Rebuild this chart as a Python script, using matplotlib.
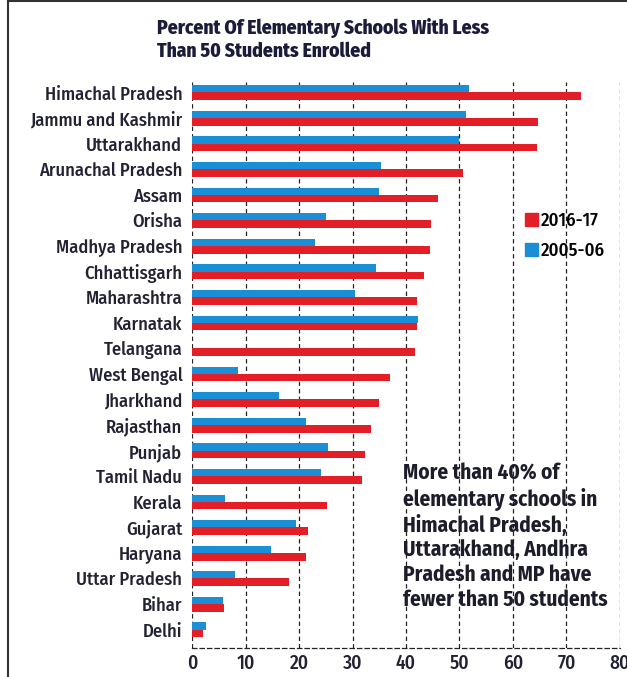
import matplotlib
matplotlib.use("Agg")
import matplotlib.pyplot as plt
from matplotlib.lines import Line2D
from matplotlib.patches import Rectangle

states = ["Himachal Pradesh", "Jammu and Kashmir", "Uttarakhand", "Arunachal Pradesh",
          "Assam", "Orisha", "Madhya Pradesh", "Chhattisgarh", "Maharashtra", "Karnatak",
          "Telangana", "West Bengal", "Jharkhand", "Rajasthan", "Punjab", "Tamil Nadu",
          "Kerala", "Gujarat", "Haryana", "Uttar Pradesh", "Bihar", "Delhi"]
v2016 = [72.7, 64.6, 64.4, 50.7, 46.0, 44.7, 44.4, 43.4, 42.1, 42.1, 41.6, 37.1,
         34.9, 33.4, 32.4, 31.8, 25.3, 21.7, 21.4, 18.1, 6.0, 2.0]
v2005 = [51.7, 51.3, 50.0, 35.3, 34.9, 25.1, 22.9, 34.4, 30.5, 42.3, 0.0, 8.6,
         16.3, 21.3, 25.4, 24.1, 6.2, 19.5, 14.8, 8.1, 5.8, 2.7]
xticks = [0, 10, 20, 30, 40, 50, 60, 70, 80]
legend_labels = ["2016-17", "2005-06"]

RED = "#e31e26"
BLUE = "#1b8fd6"
TXT = "#222233"
FONT = ["Fira Sans Condensed", "Roboto Condensed", "PT Sans Narrow", "Archivo Narrow", "DejaVu Sans"]
plt.rcParams["font.family"] = FONT

fig = plt.figure(figsize=(6.27, 6.77), dpi=100)
fig.patch.set_facecolor("white")
ax = fig.add_axes([192 / 627, 1 - 648 / 677, (620 - 192) / 627, (648 - 82) / 677])

ys = list(range(len(states)))
ax.barh([y - 0.14 for y in ys], v2005, height=0.28, color=BLUE, zorder=3)
ax.barh([y + 0.15 for y in ys], v2016, height=0.30, color=RED, zorder=3)

ax.set_xlim(0, 80)
ax.set_ylim(len(states) - 1 + 0.72, -0.41)
ax.set_yticks(ys)
ax.set_yticklabels(states, fontsize=13.3, color=TXT, fontweight=500)
ax.set_xticks(xticks)
ax.set_xticklabels([str(t) for t in xticks], fontsize=14, color=TXT, fontweight=500)
ax.tick_params(axis="y", length=0, pad=7)
ax.tick_params(axis="x", length=0, pad=4)
for x in xticks:
    ax.axvline(x, color="#222222", lw=0.9, ls=(0, (3.5, 2.5)), zorder=1)
for s in ["top", "right", "left"]:
    ax.spines[s].set_visible(False)
ax.spines["bottom"].set_linestyle((0, (3.5, 2.5)))
ax.spines["bottom"].set_color("#222222")
ax.spines["bottom"].set_linewidth(0.9)

fig.text(157 / 627, 1 - 18 / 677, "Percent Of Elementary Schools With Less\nThan 50 Students Enrolled",
         fontsize=14, fontweight=800, color="#1c1c3a", ha="left", va="top",
         linespacing=1.22)

ax.legend([Rectangle((0, 0), 1, 1, color=RED), Rectangle((0, 0), 1, 1, color=BLUE)],
          legend_labels, loc="upper left", bbox_to_anchor=((525 - 192) / 428, (648 - 212) / 566),
          frameon=False, prop={"size": 13.5, "weight": 500}, handlelength=0.7, handleheight=0.7,
          handletextpad=0.15, labelspacing=0.65, borderaxespad=0, borderpad=0)

fig.text(403 / 627, 1 - 463 / 677,
         "More than 40% of\nelementary schools in\nHimachal Pradesh,\nUttarakhand, Andhra\nPradesh and MP have\nfewer than 50 students",
         fontsize=15.3, fontweight="bold", color="#1c1c2a", ha="left", va="top",
         linespacing=1.2)

fig.add_artist(Line2D([8 / 627, 8 / 627], [0, 1], color="#333333", lw=1.5))
fig.add_artist(Line2D([8 / 627, 1], [1 - 1 / 677, 1 - 1 / 677], color="#333333", lw=1.5))

fig.savefig("out.png", dpi=100, facecolor="white")
